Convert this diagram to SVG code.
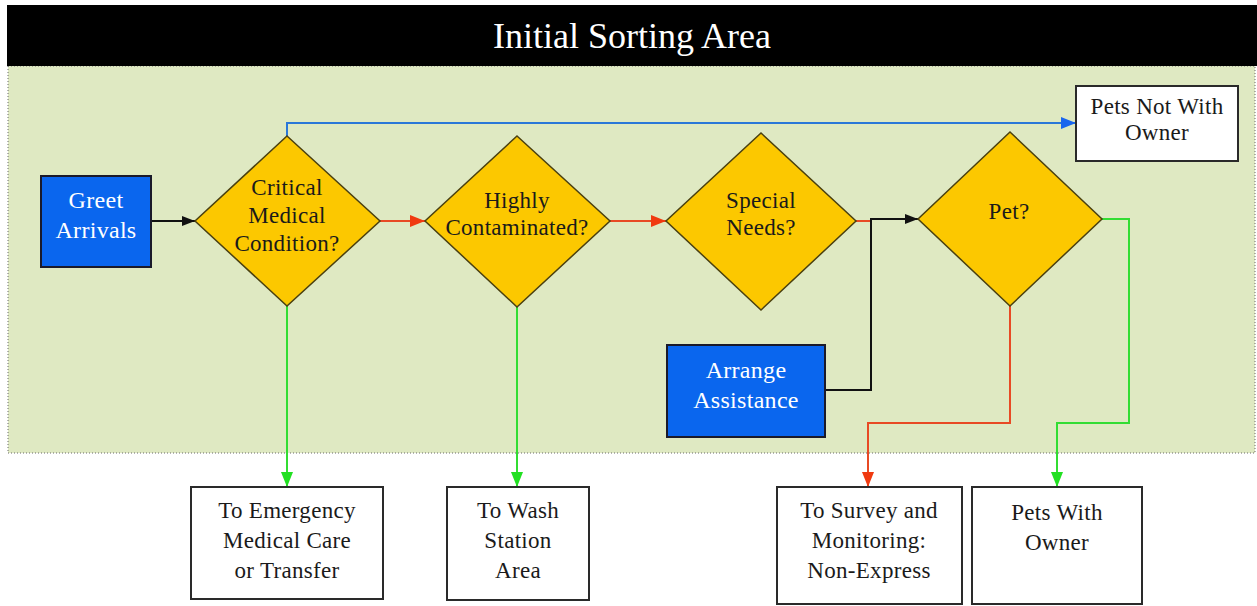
<svg xmlns="http://www.w3.org/2000/svg" width="1257" height="606" viewBox="0 0 1257 606">
<style>
.t{font-family:"Liberation Serif","Times New Roman",serif;font-size:23px;text-anchor:middle;fill:#1a1a1a;letter-spacing:0.3px}
.w{fill:#ffffff}
.box{fill:#ffffff;stroke:#2a2a2a;stroke-width:2}
.act{fill:#0a66ee;stroke:#1a1a2a;stroke-width:2}
.dia{fill:#fcc800;stroke:#4a4010;stroke-width:1.5}
.c{fill:none;stroke-width:2}
.k{stroke:#111111}
.b{stroke:#2a78d8}
.r{stroke:#e84a24}
.g{stroke:#33dd33}
</style>
<defs>
<marker id="ak" markerUnits="userSpaceOnUse" markerWidth="14" markerHeight="12" refX="13" refY="6" orient="auto"><path d="M0,1 L13,6 L0,11 Z" fill="#111111"/></marker>
<marker id="ab" markerUnits="userSpaceOnUse" markerWidth="16" markerHeight="14" refX="15" refY="7" orient="auto"><path d="M0,1 L15,7 L0,13 Z" fill="#1a66ee"/></marker>
<marker id="ar" markerUnits="userSpaceOnUse" markerWidth="16" markerHeight="14" refX="15" refY="7" orient="auto"><path d="M0,1 L15,7 L0,13 Z" fill="#f03a10"/></marker>
<marker id="ag" markerUnits="userSpaceOnUse" markerWidth="16" markerHeight="14" refX="15" refY="7" orient="auto"><path d="M0,1 L15,7 L0,13 Z" fill="#22e022"/></marker>
</defs>
<rect x="0" y="0" width="1257" height="606" fill="#ffffff"/>
<g id="area">
<rect x="8" y="66" width="1247" height="387" fill="#dfe9c2" stroke="#6a6a6a" stroke-width="1" stroke-dasharray="1,2"/>
<rect x="7" y="5" width="1250" height="61" fill="#000000"/>
<text x="632" y="48" class="t w" style="font-size:36px;letter-spacing:0">Initial Sorting Area</text>
</g>
<g id="connectors">
<path class="c k" d="M151,221 L195,221" marker-end="url(#ak)"/>
<path class="c b" d="M287,136 L287,123 L1076,123" marker-end="url(#ab)"/>
<path class="c r" d="M380,221 L425,221" marker-end="url(#ar)"/>
<path class="c r" d="M610,221 L666,221" marker-end="url(#ar)"/>
<path class="c r" d="M856,221 L871,221"/>
<path class="c k" d="M825,390 L871,390 L871,219 L918,219" marker-end="url(#ak)"/>
<path class="c r" d="M1010,306 L1010,423 L868,423 L868,487" marker-end="url(#ar)"/>
<path class="c g" d="M1102,219 L1129,219 L1129,423 L1057,423 L1057,487" marker-end="url(#ag)"/>
<path class="c g" d="M287,306 L287,487" marker-end="url(#ag)"/>
<path class="c g" d="M517,307 L517,487" marker-end="url(#ag)"/>
</g>
<g id="greet">
<rect class="act" x="41" y="176" width="110" height="91"/>
<text class="t w" x="96" y="208" style="font-size:24px">Greet</text>
<text class="t w" x="96" y="238" style="font-size:24px">Arrivals</text>
</g>
<g id="critical">
<polygon class="dia" points="287,136 380,221 287,306 195,221"/>
<text class="t" x="287" y="195">Critical</text>
<text class="t" x="287" y="223">Medical</text>
<text class="t" x="287" y="251">Condition?</text>
</g>
<g id="contaminated">
<polygon class="dia" points="517,136 610,221 517,307 425,221"/>
<text class="t" x="517" y="208">Highly</text>
<text class="t" x="517" y="235">Contaminated?</text>
</g>
<g id="special">
<polygon class="dia" points="761,133 856,221 761,310 666,221"/>
<text class="t" x="761" y="208">Special</text>
<text class="t" x="761" y="235">Needs?</text>
</g>
<g id="pet">
<polygon class="dia" points="1010,132 1102,219 1010,306 918,219"/>
<text class="t" x="1009" y="219">Pet?</text>
</g>
<g id="notwith">
<rect class="box" x="1076" y="86" width="162" height="75"/>
<text class="t" x="1157" y="114">Pets Not With</text>
<text class="t" x="1157" y="140">Owner</text>
</g>
<g id="arrange">
<rect class="act" x="667" y="345" width="158" height="92"/>
<text class="t w" x="746" y="378" style="font-size:24px">Arrange</text>
<text class="t w" x="746" y="408" style="font-size:24px">Assistance</text>
</g>
<g id="emergency">
<rect class="box" x="191" y="487" width="192" height="112"/>
<text class="t" x="287" y="518">To Emergency</text>
<text class="t" x="287" y="548">Medical Care</text>
<text class="t" x="287" y="578">or Transfer</text>
</g>
<g id="wash">
<rect class="box" x="447" y="487" width="142" height="113"/>
<text class="t" x="518" y="518">To Wash</text>
<text class="t" x="518" y="548">Station</text>
<text class="t" x="518" y="578">Area</text>
</g>
<g id="survey">
<rect class="box" x="777" y="487" width="185" height="117"/>
<text class="t" x="869" y="518">To Survey and</text>
<text class="t" x="869" y="548">Monitoring:</text>
<text class="t" x="869" y="578">Non-Express</text>
</g>
<g id="withowner">
<rect class="box" x="972" y="487" width="170" height="117"/>
<text class="t" x="1057" y="520">Pets With</text>
<text class="t" x="1057" y="550">Owner</text>
</g>
</svg>
